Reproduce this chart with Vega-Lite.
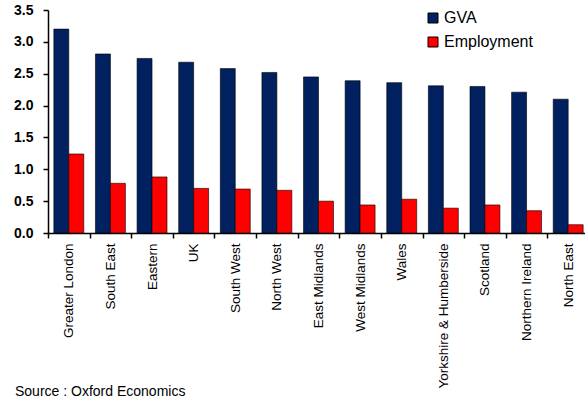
{
  "$schema": "https://vega.github.io/schema/vega-lite/v6.json",
  "width": 541,
  "height": 223,
  "autosize": "none",
  "padding": {"left": 48, "top": 10, "right": 0, "bottom": 167},
  "background": "white",
  "title": {
    "text": "Source : Oxford Economics",
    "orient": "bottom",
    "anchor": "start",
    "frame": "group",
    "font": "Liberation Sans",
    "fontSize": 14,
    "fontWeight": "normal",
    "color": "#000000",
    "dx": -33,
    "dy": -3,
    "offset": 0
  },
  "data": {
    "values": [
      {"region": "Greater London", "series": "GVA", "value": 3.2},
      {"region": "Greater London", "series": "Employment", "value": 1.24},
      {"region": "South East", "series": "GVA", "value": 2.81},
      {"region": "South East", "series": "Employment", "value": 0.78},
      {"region": "Eastern", "series": "GVA", "value": 2.74},
      {"region": "Eastern", "series": "Employment", "value": 0.88},
      {"region": "UK", "series": "GVA", "value": 2.68},
      {"region": "UK", "series": "Employment", "value": 0.7},
      {"region": "South West", "series": "GVA", "value": 2.58},
      {"region": "South West", "series": "Employment", "value": 0.69},
      {"region": "North West", "series": "GVA", "value": 2.52},
      {"region": "North West", "series": "Employment", "value": 0.67},
      {"region": "East Midlands", "series": "GVA", "value": 2.45},
      {"region": "East Midlands", "series": "Employment", "value": 0.5},
      {"region": "West Midlands", "series": "GVA", "value": 2.39},
      {"region": "West Midlands", "series": "Employment", "value": 0.44},
      {"region": "Wales", "series": "GVA", "value": 2.36},
      {"region": "Wales", "series": "Employment", "value": 0.53},
      {"region": "Yorkshire & Humberside", "series": "GVA", "value": 2.31},
      {"region": "Yorkshire & Humberside", "series": "Employment", "value": 0.39},
      {"region": "Scotland", "series": "GVA", "value": 2.3},
      {"region": "Scotland", "series": "Employment", "value": 0.44},
      {"region": "Northern Ireland", "series": "GVA", "value": 2.21},
      {"region": "Northern Ireland", "series": "Employment", "value": 0.35},
      {"region": "North East", "series": "GVA", "value": 2.1},
      {"region": "North East", "series": "Employment", "value": 0.13}
    ]
  },
  "mark": {"type": "bar", "stroke": "#000000", "strokeWidth": 0.6},
  "encoding": {
    "x": {
      "field": "region",
      "type": "nominal",
      "sort": null,
      "scale": {"paddingInner": 0, "paddingOuter": 0},
      "axis": {
        "title": null,
        "labelAngle": -90,
        "labelAlign": "right",
        "labelBaseline": "middle",
        "labelFont": "Liberation Sans",
        "labelFontSize": 13.5,
        "labelColor": "#000000",
        "labelPadding": 5,
        "tickBand": "extent",
        "tickSize": 5,
        "tickColor": "#000000",
        "domainColor": "#000000",
        "domainWidth": 1.5,
        "tickWidth": 1.5,
        "grid": false
      }
    },
    "xOffset": {
      "field": "series",
      "type": "nominal",
      "sort": ["GVA", "Employment"],
      "scale": {"paddingInner": 0, "paddingOuter": 0.39}
    },
    "y": {
      "field": "value",
      "type": "quantitative",
      "scale": {"domain": [0, 3.5], "nice": false},
      "axis": {
        "title": null,
        "values": [0, 0.5, 1, 1.5, 2, 2.5, 3, 3.5],
        "format": ".1f",
        "labelFont": "Liberation Sans",
        "labelFontSize": 14,
        "labelFontWeight": "bold",
        "labelColor": "#000000",
        "labelPadding": 10,
        "tickSize": 5,
        "tickColor": "#000000",
        "tickWidth": 1.5,
        "domainColor": "#000000",
        "domainWidth": 1.5,
        "grid": false
      }
    },
    "color": {
      "field": "series",
      "type": "nominal",
      "sort": ["GVA", "Employment"],
      "scale": {"domain": ["GVA", "Employment"], "range": ["#002060", "#ff0000"]},
      "legend": {
        "title": null,
        "orient": "none",
        "legendX": 377,
        "legendY": 0,
        "padding": 0,
        "symbolType": "square",
        "symbolSize": 100,
        "symbolStrokeColor": "#000000",
        "symbolStrokeWidth": 1,
        "symbolOpacity": 1,
        "labelFont": "Liberation Sans",
        "labelFontSize": 16,
        "labelColor": "#000000",
        "labelOffset": 3,
        "rowPadding": 8
      }
    }
  },
  "config": {"view": {"stroke": null}}
}
